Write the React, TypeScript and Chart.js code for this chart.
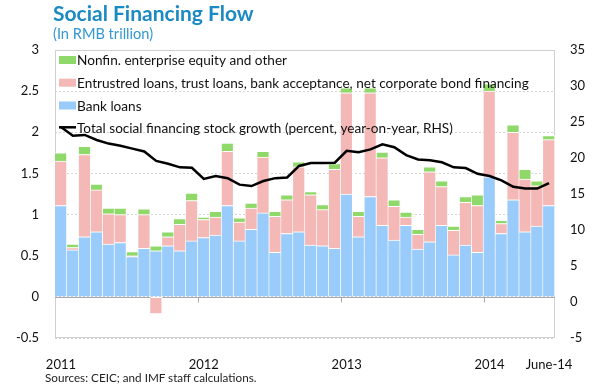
import React, { useEffect, useRef } from "react";
import { Chart, registerables } from "chart.js";

Chart.register(...registerables);

// ---------- data ----------
const months = [
  "Jan-11", "Feb-11", "Mar-11", "Apr-11", "May-11", "Jun-11", "Jul-11", "Aug-11", "Sep-11", "Oct-11", "Nov-11", "Dec-11",
  "Jan-12", "Feb-12", "Mar-12", "Apr-12", "May-12", "Jun-12", "Jul-12", "Aug-12", "Sep-12", "Oct-12", "Nov-12", "Dec-12",
  "Jan-13", "Feb-13", "Mar-13", "Apr-13", "May-13", "Jun-13", "Jul-13", "Aug-13", "Sep-13", "Oct-13", "Nov-13", "Dec-13",
  "Jan-14", "Feb-14", "Mar-14", "Apr-14", "May-14", "Jun-14",
];

const bankLoans = [
  1.11, 0.57, 0.73, 0.79, 0.64, 0.66, 0.49, 0.59, 0.56, 0.62, 0.56, 0.68,
  0.72, 0.75, 1.11, 0.68, 0.82, 1.02, 0.54, 0.77, 0.79, 0.63, 0.62, 0.59,
  1.25, 0.73, 1.22, 0.87, 0.69, 0.87, 0.58, 0.67, 0.87, 0.51, 0.63, 0.54,
  1.46, 0.77, 1.18, 0.79, 0.86, 1.11,
];

const entrustedLoans = [
  0.54, 0.03, 1.0, 0.51, 0.37, 0.34, 0.01, 0.41, -0.2, 0.11, 0.32, 0.49,
  0.22, 0.22, 0.66, 0.23, 0.26, 0.68, 0.44, 0.41, 0.79, 0.61, 0.44, 0.96,
  1.23, 0.25, 1.26, 0.82, 0.41, 0.1, 0.18, 0.85, 0.47, 0.3, 0.52, 0.57,
  1.04, 0.12, 0.82, 0.64, 0.49, 0.8,
];

const equityOther = [
  0.1, 0.04, 0.1, 0.07, 0.07, 0.08, 0.05, 0.07, 0.06, 0.06, 0.07, 0.09,
  0.03, 0.07, 0.1, 0.05, 0.06, 0.07, 0.06, 0.06, 0.06, 0.04, 0.06, 0.07,
  0.06, 0.06, 0.06, 0.07, 0.08, 0.06, 0.06, 0.06, 0.07, 0.05, 0.07, 0.13,
  0.09, 0.04, 0.09, 0.12, 0.06, 0.05,
];

const stockGrowth = [
  24.3, 23.1, 23.2, 22.5, 22.0, 21.7, 21.3, 20.9, 19.6, 19.2, 18.7, 18.65,
  17.1, 17.5, 17.2, 16.3, 16.1, 16.8, 17.2, 17.3, 18.9, 19.3, 19.3, 19.35,
  21.0, 20.8, 21.2, 21.9, 21.5, 20.4, 19.8, 19.7, 19.4, 18.7, 18.6, 17.8,
  17.5, 16.9, 16.0, 15.75, 15.75, 16.5,
];

const xTickIndex = [0, 12, 24, 36, 41];
const xTickText = ["2011", "2012", "2013", "2014", "June-14"];
const yearStartIndex = [12, 24, 36];

const seriesNames = [
  "Nonfin. enterprise equity and other",
  "Entrustred loans, trust loans, bank acceptance, net corporate bond financing",
  "Bank loans",
  "Total social financing stock growth (percent, year-on-year, RHS)",
];

const COLORS = {
  green: "#8fd86a",
  pink: "#f4b8b6",
  blue: "#99cbfb",
  line: "#000000",
};

const FONT = "Lato, 'Open Sans', sans-serif";

export default function App() {
  const canvasRef = useRef<HTMLCanvasElement | null>(null);

  useEffect(() => {
    document.body.style.margin = "0";
    const canvas = canvasRef.current;
    if (!canvas) return;

    const framePlugin = {
      id: "frame",
      beforeDatasetsDraw(chart: any) {
        const { ctx, chartArea: a, scales } = chart;
        const y0 = Math.round(scales.y.getPixelForValue(0)) + 0.5;
        ctx.save();
        ctx.lineWidth = 1;
        ctx.strokeStyle = "#cfcfcf";
        ctx.strokeRect(a.left + 0.5, a.top + 0.5, a.right - a.left - 1, a.bottom - a.top - 1);
        ctx.strokeStyle = "#a9a9a9";
        ctx.beginPath();
        ctx.moveTo(a.left, y0);
        ctx.lineTo(a.right, y0);
        for (const i of yearStartIndex) {
          const px = Math.round((scales.x.getPixelForValue(i - 1) + scales.x.getPixelForValue(i)) / 2) + 0.5;
          ctx.moveTo(px, y0);
          ctx.lineTo(px, y0 + 5);
        }
        ctx.stroke();
        ctx.restore();
      },
      afterDatasetsDraw(chart: any) {
        const { ctx, chartArea: a } = chart;
        const rows = [60, 82.7, 105.5, 127.3];
        const boxColors = [COLORS.green, COLORS.pink, COLORS.blue];
        ctx.save();
        ctx.font = `13.6px ${FONT}`;
        ctx.textBaseline = "middle";
        const bx = a.left + 4;
        rows.forEach((ry, i) => {
          if (i < 3) {
            ctx.fillStyle = boxColors[i];
            ctx.fillRect(bx, ry - 4, 17, 8);
          } else {
            ctx.strokeStyle = COLORS.line;
            ctx.lineWidth = 2.5;
            ctx.beginPath();
            ctx.moveTo(bx, ry);
            ctx.lineTo(bx + 17, ry);
            ctx.stroke();
          }
          ctx.fillStyle = "#111";
          ctx.fillText(seriesNames[i], bx + 18, ry + 1);
        });
        ctx.restore();
      },
    };

    const chart = new Chart(canvas, {
      type: "bar",
      data: {
        labels: months,
        datasets: [
          {
            type: "line",
            label: seriesNames[3],
            data: stockGrowth,
            yAxisID: "y1",
            borderColor: COLORS.line,
            borderWidth: 2.5,
            pointRadius: 0,
            tension: 0,
            order: 0,
          } as any,
          {
            label: seriesNames[2],
            data: bankLoans,
            backgroundColor: COLORS.blue,
            borderColor: "#ffffff",
            borderWidth: { top: 1, right: 1, left: 0, bottom: 0 },
            borderSkipped: false,
            yAxisID: "y",
            order: 1,
          },
          {
            label: seriesNames[1],
            data: entrustedLoans,
            backgroundColor: COLORS.pink,
            borderColor: "#ffffff",
            borderWidth: { top: 1, right: 1, left: 0, bottom: 0 },
            borderSkipped: false,
            yAxisID: "y",
            order: 1,
          },
          {
            label: seriesNames[0],
            data: equityOther,
            backgroundColor: COLORS.green,
            borderColor: "#ffffff",
            borderWidth: { top: 1, right: 1, left: 0, bottom: 0 },
            borderSkipped: false,
            yAxisID: "y",
            order: 1,
          },
        ],
      },
      options: {
        responsive: false,
        animation: false,
        devicePixelRatio: 1,
        datasets: { bar: { barPercentage: 1, categoryPercentage: 1 } },
        layout: { padding: { top: 50, left: 0, right: 0, bottom: 0 } },
        plugins: {
          legend: { display: false },
          tooltip: { enabled: false },
          title: { display: false },
        },
        scales: {
          x: {
            stacked: true,
            grid: { display: false, drawTicks: false },
            border: { display: false },
            ticks: {
              autoSkip: false,
              maxRotation: 0,
              minRotation: 0,
              padding: 19,
              color: "#111",
              font: { family: FONT, size: 13 },
              callback: (_v: any, idx: number) => {
                const k = xTickIndex.indexOf(idx);
                return k >= 0 ? xTickText[k] : "";
              },
            },
            afterFit: (s: any) => {
              s.height = 54;
            },
          },
          y: {
            position: "left",
            stacked: true,
            min: -0.5,
            max: 3,
            grid: { color: "#d4d4d4", drawTicks: false, lineWidth: 1 },
            border: { display: false, dash: [2, 2] },
            ticks: {
              stepSize: 0.5,
              padding: 16,
              color: "#111",
              font: { family: FONT, size: 13 },
              callback: (v: any) => String(Math.round(Number(v) * 10) / 10),
            },
            afterFit: (s: any) => {
              s.width = 55;
            },
          },
          y1: {
            position: "right",
            min: -5,
            max: 35,
            grid: { display: false, drawTicks: false },
            border: { display: false },
            ticks: {
              stepSize: 5,
              padding: 15,
              color: "#111",
              font: { family: FONT, size: 13 },
              callback: (v: any) => String(v),
            },
            afterFit: (s: any) => {
              s.width = 39;
            },
          },
        },
      },
      plugins: [framePlugin],
    } as any);

    return () => chart.destroy();
  }, []);

  return (
    <div style={{ position: "relative", width: 594, height: 392, background: "#fff" }}>
      <canvas ref={canvasRef} width={594} height={392} style={{ position: "absolute", left: 0, top: 0 }} />
      <div
        style={{
          position: "absolute",
          left: 53,
          top: 2,
          fontFamily: FONT,
          fontWeight: 700,
          fontSize: 21,
          lineHeight: "21px",
          color: "#1b8ac4",
          whiteSpace: "nowrap",
        }}
      >
        Social Financing Flow
      </div>
      <div
        style={{
          position: "absolute",
          left: 53,
          top: 27,
          fontFamily: FONT,
          fontSize: 14.6,
          lineHeight: "14.6px",
          color: "#3399d0",
          whiteSpace: "nowrap",
        }}
      >
        (In RMB trillion)
      </div>
      <div
        style={{
          position: "absolute",
          left: 45,
          top: 372,
          fontFamily: FONT,
          fontSize: 11.7,
          lineHeight: "11.7px",
          color: "#222",
          whiteSpace: "nowrap",
        }}
      >
        Sources: CEIC; and IMF staff calculations.
      </div>
    </div>
  );
}
